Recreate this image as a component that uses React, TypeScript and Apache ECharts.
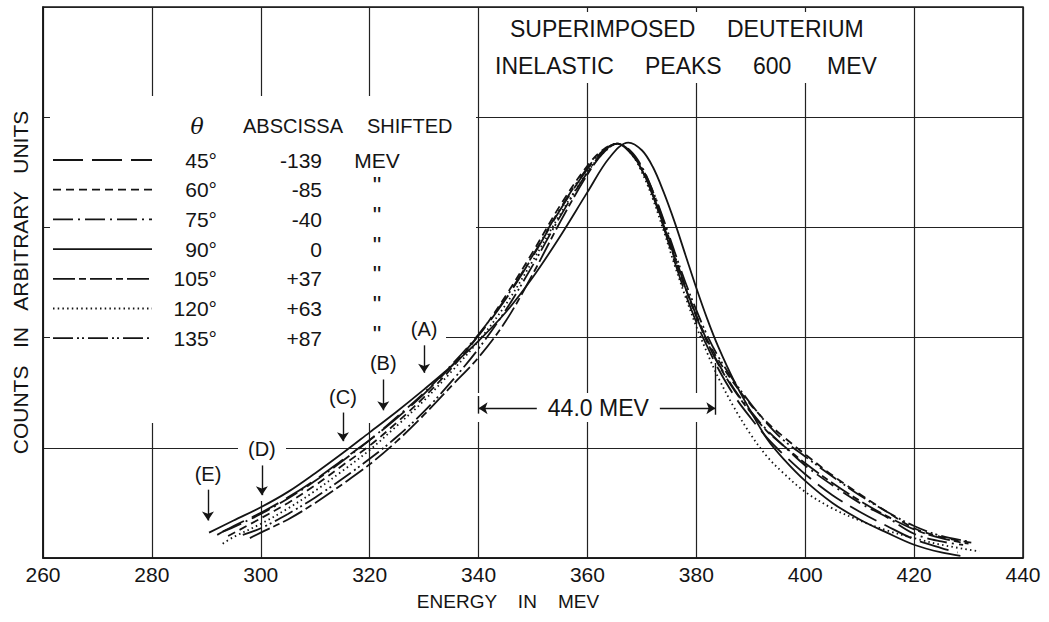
import React, { useEffect, useRef } from "react";
import * as echarts from "echarts";

// ---------- data ----------
const X_MIN = 260;
const X_MAX = 440;
const X_STEP = 20;
const Y_MIN = 0;
const Y_MAX = 5;
const Y_STEP = 1;

const seriesNames = ["45°", "60°", "75°", "90°", "105°", "120°", "135°"];
const shiftValues = ["-139", "-85", "-40", "0", "+37", "+63", "+87"];
const shiftUnits = ["MEV", "\"", "\"", "\"", "\"", "\"", "\""];

const curve45: number[][] = [
  [292, 0.21], [295, 0.29], [300, 0.41], [305, 0.55], [310, 0.71], [315, 0.89], [320, 1.07],
  [325, 1.27], [330, 1.49], [335, 1.74], [340, 2.02], [345, 2.35], [350, 2.74], [355, 3.16],
  [360, 3.53], [363, 3.7], [365.5, 3.76], [368, 3.68], [370, 3.52], [372, 3.29], [374, 3.0],
  [376, 2.69], [378, 2.4], [380, 2.14], [382, 1.92], [384, 1.72], [387, 1.47], [390, 1.27],
  [393, 1.09], [396, 0.94], [400, 0.76], [405, 0.57], [410, 0.42], [415, 0.29], [420, 0.17],
  [425, 0.09], [428, 0.05],
];
const curve60: number[][] = [
  [294, 0.2], [300, 0.36], [305, 0.5], [310, 0.66], [315, 0.84], [320, 1.02], [325, 1.23],
  [330, 1.46], [335, 1.72], [340, 2.02], [345, 2.38], [350, 2.78], [355, 3.2], [360, 3.56],
  [363, 3.71], [365.5, 3.76], [368, 3.68], [370, 3.52], [372, 3.3], [374, 3.02], [376, 2.72],
  [378, 2.45], [380, 2.2], [382, 1.98], [384, 1.8], [387, 1.58], [390, 1.39], [393, 1.23],
  [396, 1.1], [400, 0.94], [405, 0.75], [410, 0.58], [415, 0.42], [420, 0.27], [425, 0.19],
  [430.5, 0.14],
];
const curve75: number[][] = [
  [293, 0.24], [295, 0.28], [300, 0.4], [305, 0.54], [310, 0.7], [315, 0.88], [320, 1.07],
  [325, 1.28], [330, 1.5], [335, 1.75], [340, 2.03], [345, 2.36], [350, 2.75], [355, 3.17],
  [360, 3.54], [363, 3.7], [365.5, 3.76], [368, 3.69], [370, 3.55], [372, 3.33], [374, 3.05],
  [376, 2.75], [378, 2.46], [380, 2.2], [382, 1.97], [384, 1.77], [387, 1.53], [390, 1.33],
  [393, 1.16], [396, 1.02], [400, 0.84], [405, 0.66], [410, 0.5], [415, 0.37], [420, 0.22],
  [425, 0.15], [429, 0.12],
];
const curve90: number[][] = [
  [290.5, 0.23], [295, 0.34], [300, 0.46], [305, 0.6], [310, 0.77], [315, 0.95], [320, 1.14],
  [325, 1.33], [330, 1.53], [335, 1.74], [340, 1.97], [345, 2.23], [350, 2.55], [355, 2.92],
  [360, 3.32], [364, 3.63], [367.5, 3.77], [370, 3.7], [372, 3.55], [374, 3.32], [376, 3.05],
  [378, 2.75], [380, 2.45], [382, 2.17], [384, 1.92], [387, 1.6], [390, 1.33], [393, 1.08],
  [396, 0.9], [400, 0.7], [405, 0.5], [410, 0.35], [415, 0.23], [420, 0.12], [425, 0.05],
  [428.5, 0.02],
];
const curve105: number[][] = [
  [298, 0.18], [300, 0.23], [305, 0.35], [310, 0.5], [315, 0.67], [320, 0.85], [325, 1.06],
  [330, 1.3], [335, 1.56], [340, 1.82], [345, 2.15], [350, 2.58], [355, 3.05], [360, 3.48],
  [363, 3.68], [365.5, 3.76], [368, 3.67], [370, 3.52], [372, 3.3], [374, 3.02], [376, 2.73],
  [378, 2.45], [380, 2.19], [382, 1.96], [384, 1.76], [387, 1.52], [390, 1.32], [393, 1.15],
  [396, 1.02], [400, 0.86], [405, 0.68], [410, 0.52], [415, 0.38], [420, 0.26], [425, 0.18],
  [430, 0.13],
];
const curve120: number[][] = [
  [293, 0.13], [295, 0.19], [300, 0.31], [305, 0.45], [310, 0.61], [315, 0.79], [320, 0.98],
  [325, 1.2], [330, 1.43], [335, 1.69], [340, 1.97], [345, 2.3], [350, 2.7], [355, 3.12],
  [360, 3.5], [363, 3.68], [365.5, 3.76], [368, 3.67], [370, 3.5], [372, 3.26], [374, 2.97],
  [376, 2.66], [378, 2.37], [380, 2.1], [382, 1.86], [384, 1.64], [387, 1.36], [390, 1.12],
  [393, 0.92], [396, 0.77], [400, 0.6], [405, 0.45], [410, 0.34], [415, 0.25], [420, 0.18],
  [425, 0.12], [432, 0.06],
];
const curve135: number[][] = [
  [296.7, 0.21], [300, 0.27], [305, 0.4], [310, 0.55], [315, 0.72], [320, 0.9], [325, 1.1],
  [330, 1.33], [335, 1.6], [340, 1.9], [345, 2.25], [350, 2.66], [355, 3.1], [360, 3.5],
  [363, 3.69], [365.5, 3.76], [368, 3.68], [370, 3.54], [372, 3.33], [374, 3.07], [376, 2.78],
  [378, 2.5], [380, 2.25], [382, 2.02], [384, 1.83], [387, 1.6], [390, 1.4], [393, 1.22],
  [396, 1.07], [400, 0.92], [405, 0.74], [410, 0.57], [415, 0.42], [420, 0.29], [425, 0.2],
  [430, 0.15],
];
const curves = [curve45, curve60, curve75, curve90, curve105, curve120, curve135];

// pointer arrows (A)..(E)
const pointerLabels = ["(A)", "(B)", "(C)", "(D)", "(E)"];
const pointerEnergy = [330, 322.5, 315.1, 300.2, 290.3];
const pointerTop = [1.93, 1.62, 1.32, 0.84, 0.62];
const pointerTip = [1.68, 1.34, 1.06, 0.57, 0.34];

// width annotation
const widthLabel = "44.0 MEV";
const widthStart = 340;
const widthEnd = 383.5;
const widthLevel = 1.36;
const widthTextGap = [350.7, 373.3];
const widthBarLeft = [1.47, 1.31];
const widthBarRight = [1.77, 1.3];

// ---------- styles ----------
const INK = "#141414";
const FONT = "Liberation Sans";
const dashPatterns: any[] = [
  [30, 9],
  [8, 5],
  [20, 5, 2, 5],
  "solid",
  [22, 4, 7, 4],
  [1.5, 3.2],
  [20, 4, 2, 3, 2, 4],
];

export default function App() {
  const ref = useRef<HTMLDivElement>(null);

  useEffect(() => {
    if (!ref.current) return;
    const chart = echarts.init(ref.current, null, { renderer: "svg" });

    const lineSeries = seriesNames.map((name, i) => ({
      type: "line",
      name,
      data: curves[i],
      smooth: 0.35,
      symbol: "none",
      showSymbol: false,
      z: 2,
      lineStyle: { color: INK, width: 1.8, type: dashPatterns[i] },
    }));

    const pointerSeries = {
      type: "line",
      name: "pointers",
      data: [],
      z: 4,
      markLine: {
        silent: true,
        symbol: ["none", "arrow"],
        symbolSize: 9,
        lineStyle: { color: INK, width: 1.4, type: "solid" },
        label: {
          show: true,
          position: "start",
          formatter: "{b}",
          color: INK,
          fontSize: 20,
          fontFamily: FONT,
          distance: 6,
        },
        data: pointerLabels.map((lab, i) => [
          { name: lab, coord: [pointerEnergy[i], pointerTop[i]] },
          { coord: [pointerEnergy[i], pointerTip[i]] },
        ]),
      },
    };

    const widthArrowSeries = {
      type: "line",
      name: "width",
      data: [],
      z: 4,
      markLine: {
        silent: true,
        symbol: ["none", "arrow"],
        symbolSize: 9,
        lineStyle: { color: INK, width: 1.4, type: "solid" },
        label: { show: false },
        data: [
          [{ coord: [widthTextGap[0], widthLevel] }, { coord: [widthStart, widthLevel] }],
          [{ coord: [widthTextGap[1], widthLevel] }, { coord: [widthEnd, widthLevel] }],
        ],
      },
      markPoint: {
        silent: true,
        symbol: "circle",
        symbolSize: 0,
        label: {
          show: true,
          position: "inside",
          formatter: widthLabel,
          color: INK,
          fontSize: 23,
          fontFamily: FONT,
        },
        data: [{ coord: [(widthTextGap[0] + widthTextGap[1]) / 2, widthLevel] }],
      },
    };

    const widthBarSeries = {
      type: "line",
      name: "widthBars",
      data: [],
      z: 4,
      markLine: {
        silent: true,
        symbol: ["none", "none"],
        lineStyle: { color: INK, width: 1.4, type: "solid" },
        label: { show: false },
        data: [
          [{ coord: [widthStart, widthBarLeft[0]] }, { coord: [widthStart, widthBarLeft[1]] }],
          [{ coord: [widthEnd, widthBarRight[0]] }, { coord: [widthEnd, widthBarRight[1]] }],
        ],
      },
    };

    const txt = (text: string, x: number, y: number, size: number, align = "left", extra: any = {}) => ({
      type: "text",
      z: 5,
      silent: true,
      style: {
        text,
        x,
        y,
        fill: INK,
        font: `${size}px "${FONT}"`,
        align,
        verticalAlign: "middle",
        textAlign: align,
        textVerticalAlign: "middle",
        ...extra,
      },
    });

    const mask = (x: number, y: number, w: number, h: number) => ({
      type: "rect",
      z: 1,
      silent: true,
      shape: { x, y, width: w, height: h },
      style: { fill: "#ffffff" },
    });

    const rowY = (i: number) => 160 + i * 29.7;

    const graphics: any[] = [
      mask(50, 96, 426, 204),
      mask(50, 296, 396, 127),
      mask(238, 423, 48, 78),
      mask(470, 393, 250, 29),
      mask(485, 12, 415, 71),
      // title
      txt("SUPERIMPOSED", 510, 29, 23),
      txt("DEUTERIUM", 727, 29, 23),
      txt("INELASTIC", 495, 66, 23),
      txt("PEAKS", 645, 66, 23),
      txt("600", 753, 66, 23),
      txt("MEV", 827, 66, 23),
      // legend header
      {
        type: "text",
        z: 5,
        silent: true,
        style: {
          text: "θ",
          x: 197,
          y: 126,
          fill: INK,
          font: 'italic 22px "DejaVu Serif"',
          align: "center",
          verticalAlign: "middle",
          textAlign: "center",
          textVerticalAlign: "middle",
        },
      },
      txt("ABSCISSA", 243, 126, 20),
      txt("SHIFTED", 367, 126, 20),
    ];

    seriesNames.forEach((name, i) => {
      const y = rowY(i);
      const pat = dashPatterns[i];
      graphics.push({
        type: "line",
        z: 5,
        silent: true,
        shape: { x1: 53, y1: y, x2: 152, y2: y },
        style: {
          stroke: INK,
          lineWidth: 1.8,
          lineDash: pat === "solid" ? null : pat,
        },
      });
      graphics.push(txt(name, 217, y, 21, "right"));
      graphics.push(txt(shiftValues[i], 322, y, 21, "right"));
      graphics.push(txt(shiftUnits[i], 377, y + (i === 0 ? 0 : -4), i === 0 ? 21 : 24, "center"));
    });

    chart.setOption({
      animation: false,
      backgroundColor: "#ffffff",
      textStyle: { fontFamily: FONT, color: INK },
      grid: {
        left: 43,
        right: 26,
        top: 7,
        bottom: 64,
        show: true,
        borderColor: INK,
        borderWidth: 1.5,
        backgroundColor: "transparent",
      },
      xAxis: {
        type: "value",
        min: X_MIN,
        max: X_MAX,
        interval: X_STEP,
        name: "ENERGY    IN    MEV",
        nameLocation: "middle",
        nameGap: 34,
        nameTextStyle: { color: INK, fontSize: 19, fontFamily: FONT, padding: [0, 50, 0, 0] },
        axisLine: { show: true, lineStyle: { color: INK, width: 1.5 } },
        axisTick: { show: false },
        axisLabel: {
          color: INK,
          fontSize: 21,
          fontFamily: FONT,
          margin: 6,
          showMinLabel: true,
          showMaxLabel: true,
        },
        splitLine: { show: true, lineStyle: { color: "#222", width: 1.2 } },
      },
      yAxis: {
        type: "value",
        min: Y_MIN,
        max: Y_MAX,
        interval: Y_STEP,
        name: "COUNTS   IN   ARBITRARY   UNITS",
        nameLocation: "middle",
        nameGap: 12,
        nameRotate: 90,
        nameTextStyle: { color: INK, fontSize: 21, fontFamily: FONT },
        axisLine: { show: true, lineStyle: { color: INK, width: 1.5 } },
        axisTick: { show: false },
        axisLabel: { show: false },
        splitLine: { show: true, lineStyle: { color: "#222", width: 1.2 } },
      },
      graphic: { elements: graphics },
      series: [...lineSeries, pointerSeries, widthArrowSeries, widthBarSeries],
    });

    return () => chart.dispose();
  }, []);

  return (
    <div
      ref={ref}
      style={{
        position: "fixed",
        left: 0,
        top: 0,
        width: 1049,
        height: 622,
        background: "#fff",
      }}
    />
  );
}
